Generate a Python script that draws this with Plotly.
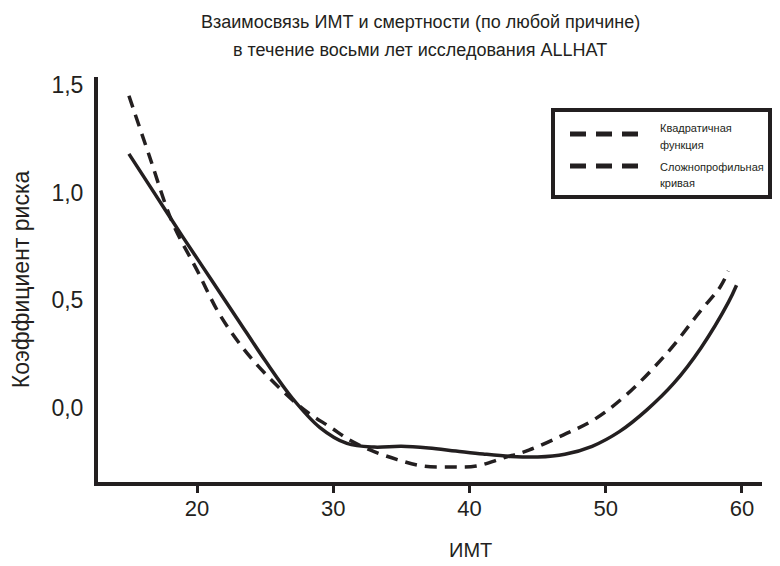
import plotly.graph_objects as go

# Data
bmi_spline = [15, 17, 19, 21, 23, 25, 27, 29, 31, 33, 35, 37, 39, 41, 43, 45, 47, 49, 51, 53, 55, 57, 59, 59.6]
hr_spline = [1.18, 0.985, 0.79, 0.60, 0.41, 0.22, 0.045, -0.09, -0.165, -0.182, -0.178, -0.186, -0.2, -0.214, -0.225, -0.228, -0.215, -0.178, -0.11, -0.01, 0.115, 0.28, 0.49, 0.57]

bmi_quad = [15, 16.5, 18.2, 20, 21.7, 23.9, 26.6, 28.1, 29.8, 31.2, 32.7, 34.7, 36.6, 38.6, 40.5, 42.5, 44.4, 46.9, 49.1, 51.5, 54.5, 56.9, 58.4, 59.0]
hr_quad = [1.45, 1.17, 0.86, 0.64, 0.43, 0.237, 0.06, -0.02, -0.09, -0.149, -0.195, -0.24, -0.27, -0.274, -0.27, -0.232, -0.195, -0.125, -0.056, 0.06, 0.255, 0.446, 0.562, 0.636]

x_ticks = [20, 30, 40, 50, 60]
y_ticks = [0.0, 0.5, 1.0, 1.5]
y_ticktext = ["0,0", "0,5", "1,0", "1,5"]

title_lines = ["Взаимосвязь ИМТ и смертности (по любой причине)",
               "в течение восьми лет исследования ALLHAT"]
legend_lines = [["Квадратичная", "функция"], ["Сложнопрофильная", "кривая"]]

INK = "#231f20"
FONT = "Liberation Sans, Arial, sans-serif"

# plot area occupies window pixels x 98..762, y 77..482 (page body has an 8px margin)
PX0, PX1, PY0, PY1 = 98, 762, 77, 482


def px(x):
    return (x - PX0) / (PX1 - PX0)


def py(y):
    return (PY1 - y) / (PY1 - PY0)


fig = go.Figure()

fig.add_trace(go.Scatter(
    x=bmi_quad, y=hr_quad, mode="lines", line=dict(color=INK, width=3.5, dash="12px,8px", shape="spline", smoothing=1),
    showlegend=False, hoverinfo="skip"))
fig.add_trace(go.Scatter(
    x=bmi_spline, y=hr_spline, mode="lines", line=dict(color=INK, width=3.5, shape="spline", smoothing=1),
    showlegend=False, hoverinfo="skip"))

fig.update_layout(
    width=772, height=558,
    margin=dict(l=90, r=18, t=69, b=84),
    paper_bgcolor="white", plot_bgcolor="white",
    font=dict(family=FONT, color=INK),
    showlegend=False,
)

fig.update_xaxes(
    range=[12.73, 61.47], tickvals=x_ticks, ticks="outside", ticklen=7, tickwidth=3, tickcolor=INK,
    showline=True, linecolor=INK, linewidth=4, showgrid=False, zeroline=False,
    ticklabelstandoff=-3,
    tickfont=dict(size=22, family=FONT, color=INK))
fig.update_yaxes(
    range=[-0.344, 1.537], tickvals=y_ticks, ticktext=y_ticktext, ticks="",
    showline=True, linecolor=INK, linewidth=4, showgrid=False, zeroline=False,
    ticklabelstandoff=6,
    tickfont=dict(size=23, family=FONT, color=INK),
    title=dict(text="Коэффициент риска", font=dict(size=23, family=FONT, color=INK), standoff=16))

for line, ypos in zip(title_lines, [22, 50]):
    fig.add_annotation(
        text=line, x=px(420), xref="paper", y=py(ypos), yref="paper", xanchor="center", yanchor="middle",
        showarrow=False, font=dict(size=18, family=FONT, color=INK))

fig.add_annotation(
    text="ИМТ", x=40.1, xref="x", y=py(550), yref="paper", yanchor="middle", showarrow=False,
    font=dict(size=20, family=FONT, color=INK))

# legend box (both entries drawn dashed, as in the reference)
fig.add_shape(type="rect", xref="paper", yref="paper",
              x0=px(553), x1=px(770), y0=py(197), y1=py(110),
              line=dict(color=INK, width=4), fillcolor="white", layer="above")
for (l1, l2), ysym, yt1, yt2 in zip(legend_lines, [134, 166], [128, 167], [145, 183]):
    fig.add_shape(type="line", xref="paper", yref="paper",
                  x0=px(570), x1=px(638), y0=py(ysym), y1=py(ysym),
                  line=dict(color=INK, width=5, dash="16px,10px"), layer="above")
    for txt, yy in [(l1, yt1), (l2, yt2)]:
        fig.add_annotation(text=txt, x=px(658), xref="paper", y=py(yy), yref="paper",
                           xanchor="left", yanchor="middle", showarrow=False,
                           font=dict(size=11, family=FONT, color=INK))

fig.write_html("out.html")
